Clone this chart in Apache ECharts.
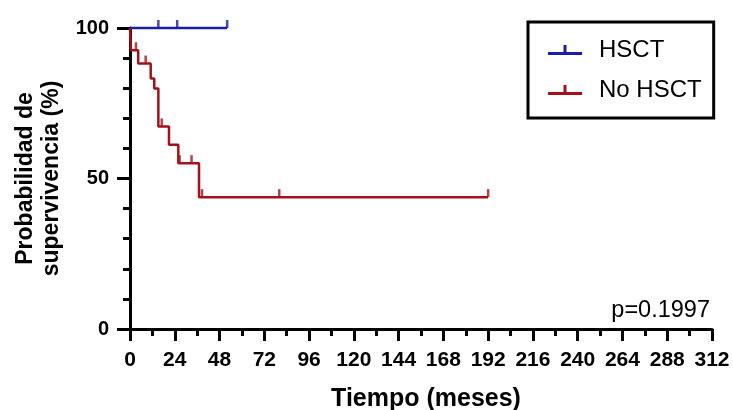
<!DOCTYPE html>
<html>
<head>
<meta charset="utf-8">
<script src="https://cdn.jsdelivr.net/npm/echarts@6/dist/echarts.min.js"></script>
<style>
  html, body { margin: 0; padding: 0; background: #fff; }
  #chart { width: 733px; height: 410px; }
</style>
</head>
<body>
<div id="chart"></div>
<script>
// Kaplan-Meier curves (time in months, survival in %)
const hsctTimes = [0, 52.1];
const hsctSurv = [100, 100];
const hsctCensor = [15.2, 25.3, 52.1];

const noTimes = [0, 0.5, 4.4, 11.1, 13.0, 15.2, 20.9, 25.9, 37.0, 192];
const noSurv = [100, 92.6, 88.2, 83.2, 79.9, 67.3, 61.2, 55.1, 43.8, 43.8];
const noCensor = [3.2, 8.4, 17.0, 26.6, 33.0, 38.6, 80.0, 192];

const xTicks = [0, 24, 48, 72, 96, 120, 144, 168, 192, 216, 240, 264, 288, 312];
const yTicks = [0, 50, 100];
const pValue = 'p=0.1997';

const RED = '#a3121c';
const BLUE = '#1c1ca6';

// survival value of the step curve at time t
function survAt(times, surv, t) {
    let s = surv[0];
    for (let i = 0; i < times.length; i++) {
        if (times[i] <= t) s = surv[i];
    }
    return s;
}

function pairs(a, b) {
    return a.map((v, i) => [v, b[i]]);
}

const legendIcon = 'path://M0,7 H15.5 V0 H18.5 V7 H34 V10 H0 Z';
const tickSymbol = 'rect';

let chart = echarts.init(document.getElementById('chart'));
let option = {
    animation: false,
    backgroundColor: '#fff',
    grid: { left: 130, right: 21, top: 28, bottom: 81, containLabel: false, outerBoundsMode: 'none' },
    xAxis: {
        type: 'value',
        min: xTicks[0],
        max: xTicks[xTicks.length - 1],
        interval: 24,
        name: 'Tiempo (meses)',
        nameLocation: 'middle',
        nameGap: 58,
        nameTextStyle: { fontFamily: 'Liberation Sans', fontWeight: 'bold', fontSize: 25, color: '#000', padding: [0, 0, 0, 10] },
        splitLine: { show: false },
        axisLine: { lineStyle: { color: '#000', width: 3 } },
        axisTick: { length: 12, lineStyle: { color: '#000', width: 3 } },
        minorTick: { show: true, splitNumber: 2, length: 7, lineStyle: { color: '#000', width: 3 } },
        axisLabel: { margin: 21, fontFamily: 'Liberation Sans', fontWeight: 'bold', fontSize: 21, color: '#000' }
    },
    yAxis: {
        type: 'value',
        min: yTicks[0],
        max: yTicks[yTicks.length - 1],
        interval: 50,
        name: 'Probabilidad de\nsupervivencia (%)',
        nameLocation: 'middle',
        nameRotate: 90,
        nameGap: 65,
        nameTextStyle: { fontFamily: 'Liberation Sans', fontWeight: 'bold', fontSize: 23, lineHeight: 26, color: '#000' },
        splitLine: { show: false },
        axisLine: { lineStyle: { color: '#000', width: 3 } },
        axisTick: { length: 13, lineStyle: { color: '#000', width: 3 } },
        minorTick: { show: true, splitNumber: 5, length: 7, lineStyle: { color: '#000', width: 3 } },
        axisLabel: { margin: 21, fontFamily: 'Liberation Sans', fontWeight: 'bold', fontSize: 20, color: '#000' }
    },
    legend: {
        left: 528,
        top: 22,
        orient: 'vertical',
        data: ['HSCT', 'No HSCT'],
        borderColor: '#000',
        borderWidth: 3,
        padding: [15, 12, 15, 20],
        itemWidth: 34,
        itemHeight: 10,
        itemGap: 14,
        icon: legendIcon,
        textStyle: { fontFamily: 'Liberation Sans', fontSize: 24, lineHeight: 26, color: '#000', padding: [0, 0, 0, 12] }
    },
    graphic: [{
        type: 'text',
        right: 23,
        top: 299,
        style: { text: pValue, fontFamily: 'Liberation Sans', fontSize: 23.5, fill: '#000' }
    }],
    series: [
        {
            name: 'HSCT',
            type: 'line',
            step: 'end',
            data: pairs(hsctTimes, hsctSurv),
            showSymbol: false,
            clip: false,
            itemStyle: { color: BLUE },
            lineStyle: { color: BLUE, width: 2.5 },
            z: 3
        },
        {
            name: 'No HSCT',
            type: 'line',
            step: 'end',
            data: pairs(noTimes, noSurv),
            showSymbol: false,
            clip: false,
            itemStyle: { color: RED },
            lineStyle: { color: RED, width: 2.5 },
            z: 3
        },
        {
            name: 'HSCT censor',
            type: 'scatter',
            data: hsctCensor.map(t => [t, survAt(hsctTimes, hsctSurv, t)]),
            symbol: tickSymbol,
            symbolSize: [2.5, 8],
            symbolOffset: [0, -4],
            clip: false,
            itemStyle: { color: BLUE },
            z: 4
        },
        {
            name: 'No HSCT censor',
            type: 'scatter',
            data: noCensor.map(t => [t, survAt(noTimes, noSurv, t)]),
            symbol: tickSymbol,
            symbolSize: [2.5, 8],
            symbolOffset: [0, -4],
            clip: false,
            itemStyle: { color: RED },
            z: 4
        }
    ]
};
chart.setOption(option);
</script>
</body>
</html>
